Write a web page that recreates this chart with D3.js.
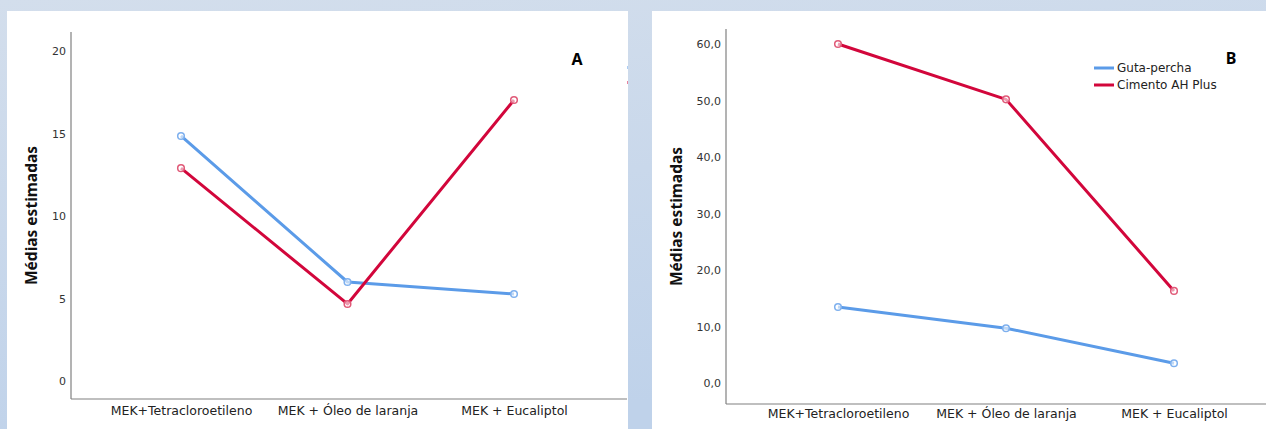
<!DOCTYPE html>
<html>
<head>
<meta charset="utf-8">
<script src="https://cdn.jsdelivr.net/npm/d3@7"></script>
<style>
  body { margin: 0; }
  svg { display: block; font-family: "DejaVu Sans", "Noto Sans", sans-serif; }
</style>
</head>
<body>
<div id="chart"></div>
<script>
// Médias estimadas - two panels (A, B)
var categories = ["MEK+Tetracloroetileno", "MEK + Óleo de laranja", "MEK + Eucaliptol"];
var seriesNames = ["Guta-percha", "Cimento AH Plus"];

var gutaA = [14.85, 6.0, 5.27];
var cimentoA = [12.9, 4.67, 17.03];
var ticksA = [0, 5, 10, 15, 20];

var gutaB = [13.45, 9.7, 3.5];
var cimentoB = [60.0, 50.2, 16.3];
var ticksB = [0, 10, 20, 30, 40, 50, 60];

var colors = ["#5b9be8", "#d2063b"];
var markerColors = ["#7eb0ee", "#e05a78"];

var W = 1266, H = 429;

var svg = d3.select("#chart").append("svg")
    .attr("width", W)
    .attr("height", H);

var defs = svg.append("defs");
var grad = defs.append("linearGradient")
    .attr("id", "bg")
    .attr("x1", 0).attr("y1", 0).attr("x2", 0.3).attr("y2", 1);
grad.append("stop").attr("offset", "0%").attr("stop-color", "#d3deec");
grad.append("stop").attr("offset", "100%").attr("stop-color", "#bfd2ea");

svg.append("rect").attr("width", W).attr("height", H).attr("fill", "url(#bg)");

// panel A
drawPanel({
    left: 7, right: 628, top: 11,
    axisX: 71, axisTop: 32, axisBottom: 399, axisRight: 627,
    y0: 381, yMax: 20, yTopPx: 51,
    xs: [181, 348, 514],
    ticks: ticksA, fmt: d3.format("d"),
    titleX: 32, labelY: 416,
    series: [gutaA, cimentoA],
    letter: "A", letterX: 577, letterY: 65,
    legend: false
});

// panel B
drawPanel({
    left: 652, right: 1266, top: 11,
    axisX: 726, axisTop: 29, axisBottom: 404, axisRight: 1266,
    y0: 383, yMax: 60, yTopPx: 44,
    xs: [838, 1006, 1174],
    ticks: ticksB, fmt: function(d) { return d3.format(".1f")(d).replace(".", ","); },
    titleX: 677, labelY: 419,
    series: [gutaB, cimentoB],
    letter: "B", letterX: 1231, letterY: 64,
    legend: true
});

// bits of the cut-off legend at the right edge of panel A
svg.append("rect").attr("x", 627).attr("y", 66).attr("width", 1).attr("height", 3).attr("fill", colors[0]).attr("opacity", 0.5);
svg.append("rect").attr("x", 627).attr("y", 81).attr("width", 1).attr("height", 3).attr("fill", colors[1]).attr("opacity", 0.5);

function drawPanel(p) {
    var g = svg.append("g");

    g.append("rect")
        .attr("x", p.left).attr("y", p.top)
        .attr("width", p.right - p.left).attr("height", H - p.top)
        .attr("fill", "#fff");

    var y = d3.scaleLinear().domain([0, p.yMax]).range([p.y0, p.yTopPx]);
    var x = d3.scalePoint().domain(categories).range([p.xs[0], p.xs[2]]);

    // axis lines
    g.append("line")
        .attr("x1", p.axisX).attr("x2", p.axisX)
        .attr("y1", p.axisTop).attr("y2", p.axisBottom)
        .attr("stroke", "#808080").attr("stroke-width", 1.2);
    g.append("line")
        .attr("x1", p.axisX).attr("x2", p.axisRight)
        .attr("y1", p.axisBottom).attr("y2", p.axisBottom)
        .attr("stroke", "#808080").attr("stroke-width", 1.2);

    // y ticks
    var yAxis = d3.axisLeft(y).tickValues(p.ticks).tickSize(0).tickPadding(0).tickFormat(p.fmt);
    var ya = g.append("g").attr("transform", "translate(" + (p.axisX - 5) + ",0)").call(yAxis);
    ya.select(".domain").remove();
    ya.attr("font-family", null).attr("font-size", null);
    ya.selectAll("text").attr("fill", "#333").style("font-size", "11px");

    // x labels
    var xAxis = d3.axisBottom(x).tickSize(0).tickPadding(0);
    var xa = g.append("g").attr("transform", "translate(0," + (p.labelY - 10) + ")").call(xAxis);
    xa.select(".domain").remove();
    xa.attr("font-family", null).attr("font-size", null);
    xa.selectAll("text").attr("fill", "#222").style("font-size", "12.5px");

    // y title
    g.append("text")
        .attr("transform", "translate(" + p.titleX + "," + ((p.axisTop + p.axisBottom) / 2) + ") rotate(-90)")
        .attr("text-anchor", "middle")
        .attr("dy", "0.35em")
        .style("font-family", "'Noto Sans', sans-serif")
        .style("font-size", "15.5px")
        .style("font-weight", "bold")
        .attr("fill", "#111")
        .text("Médias estimadas");

    var line = d3.line()
        .x(function(d, i) { return x(categories[i]); })
        .y(function(d) { return y(d); });

    p.series.forEach(function(s, si) {
        g.append("path")
            .datum(s)
            .attr("d", line)
            .attr("fill", "none")
            .attr("stroke", colors[si])
            .attr("stroke-width", 3)
            .attr("stroke-linejoin", "round");
        g.selectAll(".pt" + si)
            .data(s)
            .enter().append("circle")
            .attr("cx", function(d, i) { return x(categories[i]); })
            .attr("cy", function(d) { return y(d); })
            .attr("r", 3.3)
            .attr("fill", "#fff")
            .attr("fill-opacity", 0.6)
            .attr("stroke", markerColors[si])
            .attr("stroke-width", 1.5);
    });

    g.append("text")
        .attr("x", p.letterX).attr("y", p.letterY)
        .attr("text-anchor", "middle")
        .style("font-family", "'Noto Sans', sans-serif")
        .style("font-size", "16px")
        .style("font-weight", "bold")
        .attr("fill", "#000")
        .text(p.letter);

    if (p.legend) {
        var lg = g.append("g").attr("transform", "translate(1094,68)");
        seriesNames.forEach(function(n, i) {
            lg.append("line")
                .attr("x1", 0).attr("x2", 20)
                .attr("y1", i * 17).attr("y2", i * 17)
                .attr("stroke", colors[i]).attr("stroke-width", 3);
            lg.append("text")
                .attr("x", 23).attr("y", i * 17)
                .attr("dy", "0.35em")
                .style("font-size", "12px")
                .attr("fill", "#222")
                .text(n);
        });
    }
}
</script>
</body>
</html>
